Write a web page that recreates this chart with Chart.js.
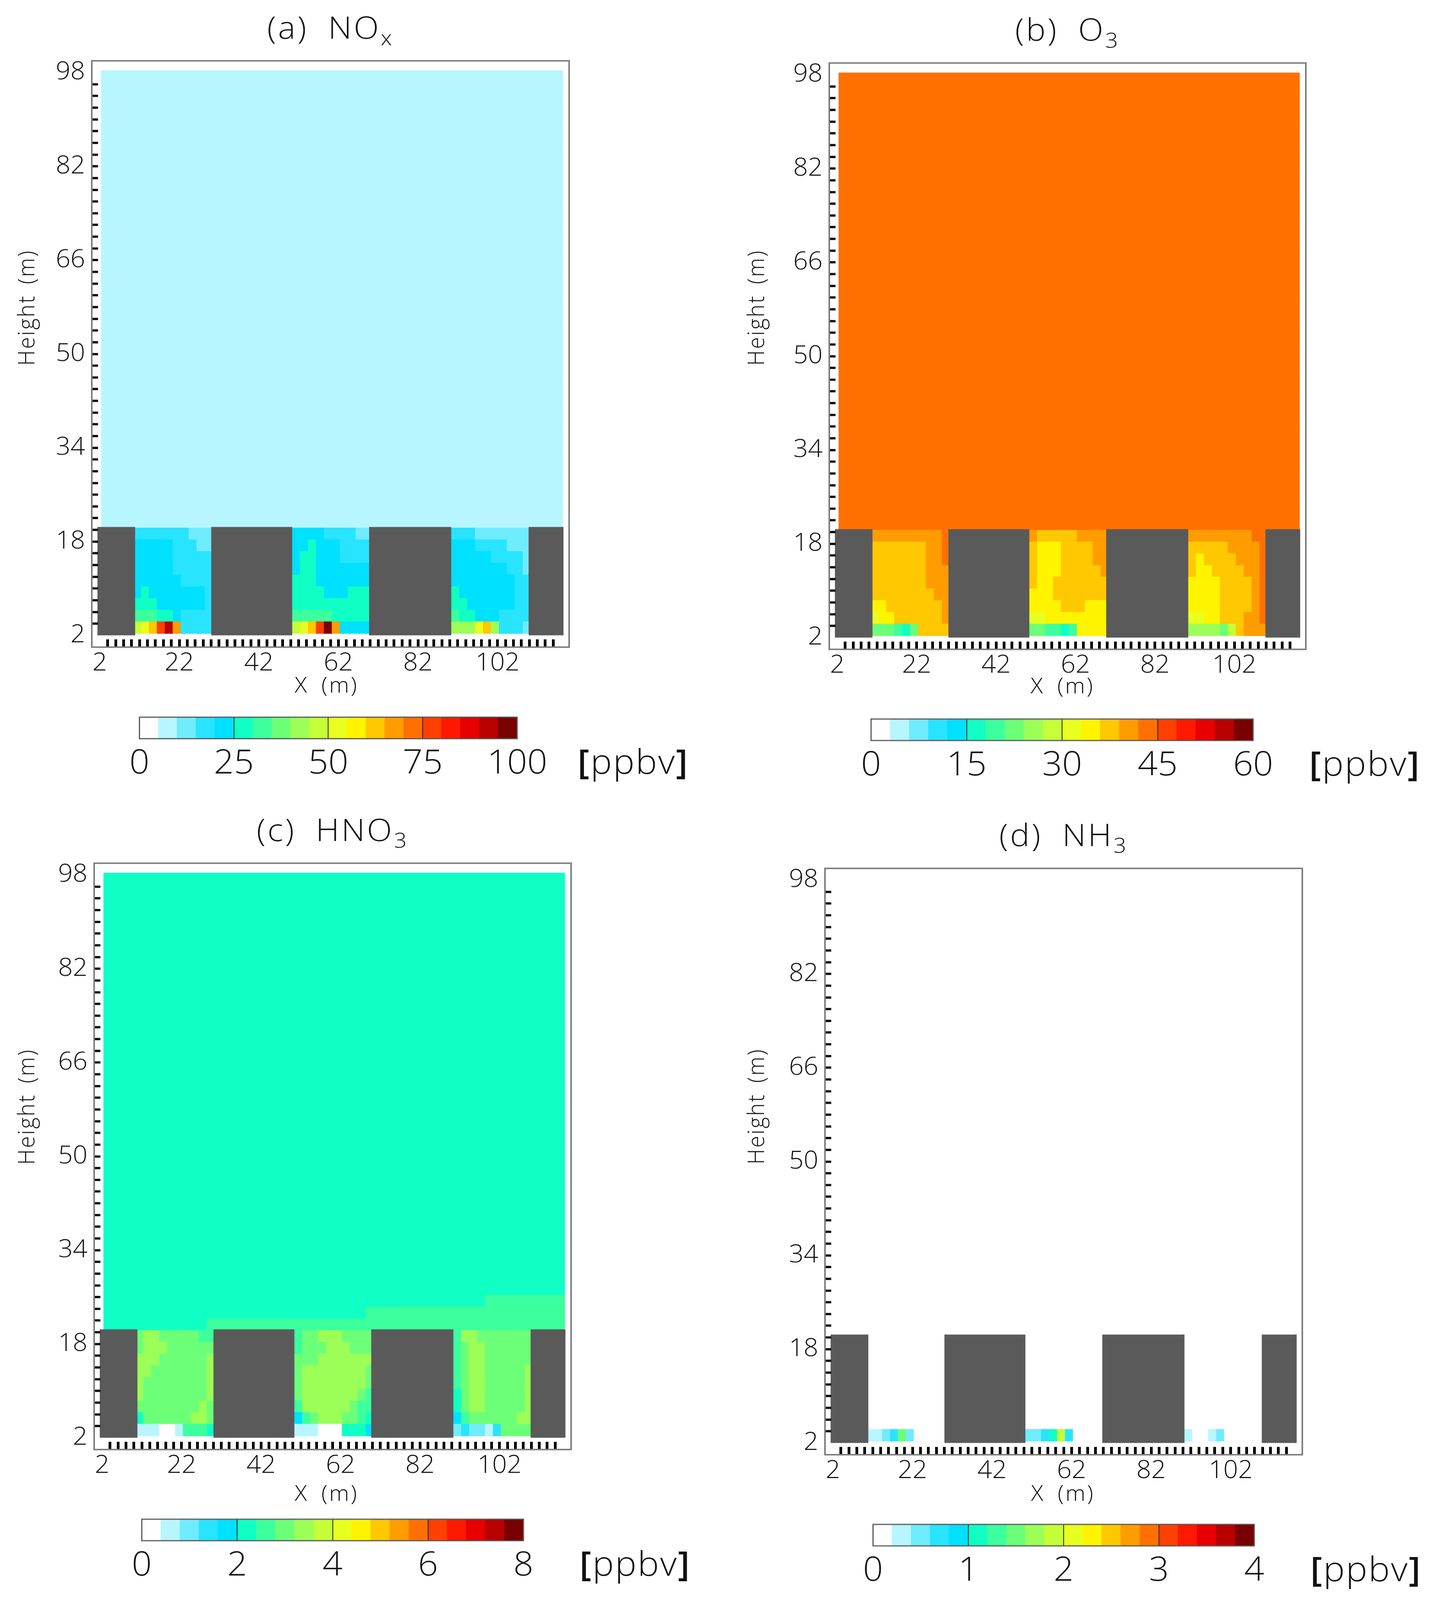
<!DOCTYPE html>
<html>
<head>
<meta charset="utf-8">
<title>NOx, O3, HNO3, NH3</title>
<script src="https://cdn.jsdelivr.net/npm/chart.js@4"></script>
<style>
  html, body { margin: 0; padding: 0; background: #fff; overflow: hidden; }
  #page { position: relative; width: 3666px; height: 4317px; overflow: hidden; transform-origin: 0 0; }
  canvas { position: absolute; }
  .txt { position: absolute; white-space: nowrap; font-family: "Open Sans", sans-serif; font-weight: 300; color: #111; line-height: 1; }
  .txt sub { font-size: 0.68em; vertical-align: -0.32em; line-height: 0; }
  .txt b { font-weight: 600; }
</style>
</head>
<body>
<div id="page"></div>
<script>
// axis labels
const xTickLabels = [2, 22, 42, 62, 82, 102];
const yTickLabels = [2, 18, 34, 50, 66, 82, 98];

// colour bar, 20 levels
const levelColors = ['#ffffff', '#b8f6ff', '#70ecff', '#28e4ff', '#00e0ff', '#10ffc4', '#3cff9e', '#6cff78', '#9cff58', '#c4ff38',
                     '#e8ff20', '#fff400', '#ffc800', '#ff9c00', '#ff7000', '#ff4000', '#ff1800', '#e80000', '#b80000', '#780000'];
const noxBarTicks = [0, 25, 50, 75, 100];
const o3BarTicks = [0, 15, 30, 45, 60];
const hno3BarTicks = [0, 2, 4, 6, 8];
const nh3BarTicks = [0, 1, 2, 3, 4];

// buildings, metres
const buildingSpans = [[1.4, 10.9], [30.0, 50.4], [69.7, 90.4], [109.8, 118.6]];
const buildingBase = 2;
const buildingTop = 20.5;

// model grid, 2 m cells
const gridX0 = 2.4;
const gridY0 = 2.3;
const gridCols = 58;
const gridRows = 48;
const canyonCols = [4, 24, 44];

// colour level of each cell inside the three canyons, top row first
const noxCanyon1 = [
  [3,3,3,3,3,3,3,2,2,2],
  [4,4,4,4,4,3,3,3,2,2],
  [4,4,4,4,4,3,3,3,3,3],
  [4,4,4,4,4,3,3,3,3,3],
  [4,4,4,4,4,4,3,3,3,3],
  [4,5,4,4,4,4,4,4,4,3],
  [5,5,5,4,4,4,4,4,4,3],
  [6,6,6,5,5,4,3,3,3,3],
  [9,10,12,15,18,13,3,3,3,3]
];
const noxCanyon2 = [
  [4,4,4,4,3,3,3,3,2,2],
  [4,4,5,4,4,4,3,3,3,3],
  [4,5,5,4,4,4,3,3,3,3],
  [4,5,5,4,4,4,4,4,4,4],
  [5,5,5,4,4,4,4,4,4,4],
  [5,5,5,5,4,4,4,5,5,5],
  [5,5,5,5,5,5,5,5,5,5],
  [6,6,6,6,6,5,5,5,5,5],
  [9,10,12,15,19,13,4,4,4,4]
];
const noxCanyon3 = [
  [3,3,3,2,2,2,2,2,2,2],
  [4,4,4,3,3,3,3,2,2,2],
  [4,4,4,4,4,3,3,3,3,2],
  [4,4,4,4,4,4,4,3,3,2],
  [4,4,4,4,4,4,4,4,3,3],
  [5,4,4,4,4,4,4,4,3,3],
  [5,5,4,4,4,4,4,4,3,3],
  [6,5,5,4,4,4,3,3,3,3],
  [8,8,8,10,12,8,3,3,3,2]
];
const o3Canyon1 = [
  [13,13,13,13,13,13,13,13,13,14],
  [12,12,12,12,12,12,12,13,13,14],
  [12,12,12,12,12,12,12,13,13,14],
  [12,12,12,12,12,12,12,13,13,13],
  [12,12,12,12,12,12,12,13,13,13],
  [12,12,12,12,12,12,12,12,13,13],
  [11,11,12,12,12,12,12,12,12,13],
  [10,11,11,12,12,12,12,12,12,13],
  [7,7,7,6,5,7,12,12,12,12]
];
const o3Canyon2 = [
  [13,12,12,12,12,12,13,13,13,13],
  [12,11,11,11,12,12,12,12,13,13],
  [12,11,11,11,12,12,12,12,13,13],
  [12,11,11,11,12,12,12,12,12,13],
  [12,11,11,12,12,12,12,12,12,12],
  [11,11,11,12,12,12,12,12,12,12],
  [11,11,11,11,12,12,12,11,11,11],
  [10,10,11,11,11,11,11,11,11,11],
  [7,7,6,6,5,6,11,11,11,11]
];
const o3Canyon3 = [
  [13,13,13,13,13,13,13,13,14,14],
  [12,12,12,12,12,13,13,13,13,14],
  [12,11,12,12,12,12,13,13,13,14],
  [12,11,11,12,12,12,12,13,13,14],
  [11,11,11,11,12,12,12,12,13,14],
  [11,11,11,11,12,12,12,12,13,14],
  [11,11,11,11,12,12,12,12,13,14],
  [10,10,11,11,12,12,12,13,13,14],
  [8,8,8,8,7,9,12,13,13,13]
];
const hno3Canyon1 = [
  [7,8,8,7,7,7,7,7,6,6],
  [7,8,8,8,7,7,7,7,7,7],
  [8,8,8,7,7,7,7,7,7,8],
  [8,8,7,7,7,7,7,7,7,8],
  [8,7,7,7,7,7,7,7,7,8],
  [8,7,7,7,7,7,7,7,7,8],
  [7,7,7,7,7,7,7,7,8,7],
  [5,7,7,7,7,7,7,8,8,7],
  [1,1,1,0,0,1,6,6,6,5]
];
const hno3Canyon2 = [
  [6,7,7,8,8,8,7,7,7,7],
  [6,7,7,7,8,8,8,7,7,7],
  [7,7,7,8,8,8,8,8,8,8],
  [7,8,8,8,8,8,8,8,8,7],
  [7,8,8,8,8,8,8,8,8,7],
  [7,8,8,8,8,8,8,8,7,6],
  [6,8,8,8,8,8,8,7,6,6],
  [4,6,7,8,8,8,7,7,6,5],
  [1,1,1,0,0,0,5,5,5,4]
];
const hno3Canyon3 = [
  [6,8,8,7,7,7,7,7,7,7],
  [6,7,8,8,7,7,7,7,7,7],
  [6,7,8,8,7,7,7,7,7,7],
  [6,7,8,8,7,7,7,7,7,8],
  [6,7,8,8,7,7,7,7,7,8],
  [5,7,8,8,7,7,7,7,7,8],
  [5,7,8,8,7,7,7,7,7,8],
  [4,6,7,7,7,7,7,7,8,8],
  [2,3,2,2,1,3,7,7,7,7]
];
const nh3Canyon1 = [[1,1,2,3,7,2,0,0,0,0]];
const nh3Canyon2 = [[2,2,3,5,9,3,0,0,0,0]];
const nh3Canyon3 = [[1,0,0,1,2,0,0,0,0,0]];

// level above the roofs
const noxAbove = 1;
const o3Above = 14;
const hno3Above = 5;
const nh3Above = 0;
// HNO3 has a slightly higher layer on the right just above the roofs: first column per row
const hno3StepLevel = 6;
const hno3StepCols = [13, 33, 48];

const page = document.getElementById('page');
// the window can come out shorter than the figure, squeeze so the lower colour bars stay on the page
page.style.transform = 'scaleY(' + Math.min(1, window.innerHeight / 4317) + ')';

function addText(html, x, y, size, css) {
  const d = document.createElement('div');
  d.className = 'txt';
  d.innerHTML = html;
  d.style.left = x + 'px';
  d.style.top = y + 'px';
  d.style.fontSize = size + 'px';
  d.style.transform = 'translate(-50%,-50%) ' + ((css && css.rotate) || '');
  if (css && css.spacing) d.style.letterSpacing = css.spacing + 'px';
  if (css && css.words) d.style.wordSpacing = css.words + 'px';
  page.appendChild(d);
}

function addCanvas(x, y, w, h) {
  const c = document.createElement('canvas');
  c.width = w;
  c.height = h;
  c.style.left = x + 'px';
  c.style.top = y + 'px';
  page.appendChild(c);
  return c;
}

const boxFrame = {
  id: 'boxFrame',
  afterDraw(chart, args, opts) {
    const a = chart.chartArea;
    const ctx = chart.ctx;
    ctx.save();
    ctx.strokeStyle = opts.color;
    ctx.lineWidth = opts.width;
    ctx.strokeRect(a.left, a.top, a.width, a.height);
    ctx.restore();
  }
};

function levelGrid(canyons, above, steps) {
  const rows = [];
  for (let r = 0; r < gridRows; r++) {
    const row = new Array(gridCols).fill(above);
    if (steps && r >= 9 && r - 9 < steps.length) {
      for (let k = steps[r - 9]; k < gridCols; k++) row[k] = hno3StepLevel;
    }
    canyons.forEach((canyon, i) => {
      const line = canyon[canyon.length - 1 - r];
      if (line) line.forEach((v, j) => { row[canyonCols[i] + j] = v; });
    });
    rows.push(row);
  }
  return rows;
}

function drawPanel(p) {
  const gutterL = 235, gutterT = 164, gutterB = 154, w = 1600, h = 1900;
  const canvas = addCanvas(p.box[0] - gutterL, p.box[1] - gutterT, w, h);
  const datasets = [];

  buildingSpans.forEach(span => {
    datasets.push({
      type: 'line',
      data: [{ x: span[0], y: buildingTop }, { x: span[1], y: buildingTop }],
      fill: { value: buildingBase },
      backgroundColor: '#5a5a5a',
      borderWidth: 0,
      pointRadius: 0,
      order: 0
    });
  });

  p.levels.forEach((row, r) => {
    const lo = gridY0 + 2 * r;
    datasets.push({
      type: 'bar',
      data: row.map((lv, k) => ({ x: gridX0 + 1 + 2 * k, y: [lo, lo + 2.05] })),
      backgroundColor: row.map(lv => levelColors[lv]),
      grouped: false,
      barThickness: 21,
      borderWidth: 0,
      order: 1
    });
  });

  const tickFont = { family: '"Open Sans"', size: 66, weight: '300' };
  new Chart(canvas, {
    type: 'bar',
    data: { datasets: datasets },
    plugins: [boxFrame],
    options: {
      responsive: false,
      animation: false,
      devicePixelRatio: 1,
      layout: { padding: { left: 0, top: gutterT, right: w - gutterL - p.box[2], bottom: 0 } },
      plugins: { legend: { display: false }, tooltip: { enabled: false }, boxFrame: { color: '#7c7c7c', width: 4 } },
      scales: {
        x: {
          type: 'linear', min: 0, max: 120, offset: false,
          afterFit: s => { s.height = gutterB; },
          border: { display: false },
          grid: {
            offset: false, drawOnChartArea: false, z: 1, tickLength: -21, tickWidth: 7,
            tickColor: c => (c.tick.value >= 4 && c.tick.value <= 116) ? '#000' : 'transparent'
          },
          ticks: {
            stepSize: 2, autoSkip: false, maxRotation: 0, padding: 26, color: '#111', font: tickFont,
            callback: v => xTickLabels.includes(v) ? String(v) : ''
          }
        },
        y: {
          type: 'linear', min: 0, max: 100,
          afterFit: s => { s.width = gutterL; },
          border: { display: false },
          grid: {
            drawOnChartArea: false, z: 1, tickLength: -16, tickWidth: 6,
            tickColor: c => (c.tick.value >= 4 && c.tick.value <= 96) ? '#000' : 'transparent'
          },
          ticks: {
            stepSize: 2, autoSkip: false, padding: 33, color: '#111', font: tickFont,
            callback: v => yTickLabels.includes(v) ? String(v) : ''
          }
        }
      }
    }
  });

  addText(p.title, p.box[0] + p.box[2] / 2, p.box[1] - 92, 84, { spacing: 5, words: 24 });
  addText('X (m)', p.xTitle[0], p.xTitle[1], 58, { spacing: 4, words: 14 });
  addText('Height (m)', p.yTitle[0], p.yTitle[1], 58, { rotate: 'rotate(-90deg)', spacing: 3.5, words: 10 });
}

function drawColorBar(p) {
  const b = p.bar;
  const padL = 80, padT = 10, barW = b[2], barH = 58, w = barW + 160, h = 190;
  const canvas = addCanvas(b[0] - padL, b[1] - padT, w, h);
  const ticks = p.barTicks;
  const top = ticks[ticks.length - 1];
  new Chart(canvas, {
    type: 'bar',
    data: {
      datasets: [{
        data: levelColors.map((c, i) => ({ x: (i + 0.5) * top / levelColors.length, y: [0, 1] })),
        backgroundColor: levelColors,
        barThickness: barW / levelColors.length + 0.6,
        borderWidth: 0
      }]
    },
    plugins: [boxFrame],
    options: {
      responsive: false,
      animation: false,
      devicePixelRatio: 1,
      layout: { padding: { left: padL, top: padT, right: w - padL - barW, bottom: 0 } },
      plugins: { legend: { display: false }, tooltip: { enabled: false }, boxFrame: { color: '#555', width: 3 } },
      scales: {
        x: {
          type: 'linear', min: 0, max: top, offset: false,
          afterFit: s => { s.height = h - padT - barH; },
          border: { display: false },
          grid: {
            offset: false, z: 1, drawTicks: false, lineWidth: 2,
            color: c => (c.tick.value > 0 && c.tick.value < top) ? '#222' : 'transparent'
          },
          ticks: { stepSize: ticks[1] - ticks[0], autoSkip: false, maxRotation: 0, padding: 14, color: '#111', font: { family: '"Open Sans"', size: 90, weight: '300' } }
        },
        y: { type: 'linear', min: 0, max: 1, display: false }
      }
    }
  });
  addText('<b>[</b>ppbv<b>]</b>', b[0] + b[2] + 151 + 135, b[1] + 118, 92, { spacing: 3 });
}

const panels = [
  { box: [235, 164, 1222, 1582], title: '(a) NO<sub>x</sub>', xTitle: [836, 1847], yTitle: [66, 830], bar: [357, 1935, 978], barTicks: noxBarTicks,
    levels: levelGrid([noxCanyon1, noxCanyon2, noxCanyon3], noxAbove) },
  { box: [2123, 170, 1220, 1580], title: '(b) O<sub>3</sub>', xTitle: [2720, 1849], yTitle: [1934, 830], bar: [2230, 1940, 978], barTicks: o3BarTicks,
    levels: levelGrid([o3Canyon1, o3Canyon2, o3Canyon3], o3Above) },
  { box: [241, 2329, 1221, 1582], title: '(c) HNO<sub>3</sub>', xTitle: [836, 4027], yTitle: [66, 2986], bar: [363, 4099, 977], barTicks: hno3BarTicks,
    levels: levelGrid([hno3Canyon1, hno3Canyon2, hno3Canyon3], hno3Above, hno3StepCols) },
  { box: [2112, 2343, 1222, 1582], title: '(d) NH<sub>3</sub>', xTitle: [2721, 4027], yTitle: [1934, 2985], bar: [2235, 4113, 976], barTicks: nh3BarTicks,
    levels: levelGrid([nh3Canyon1, nh3Canyon2, nh3Canyon3], nh3Above) }
];

panels.forEach(p => {
  drawPanel(p);
  drawColorBar(p);
});
</script>
</body>
</html>
